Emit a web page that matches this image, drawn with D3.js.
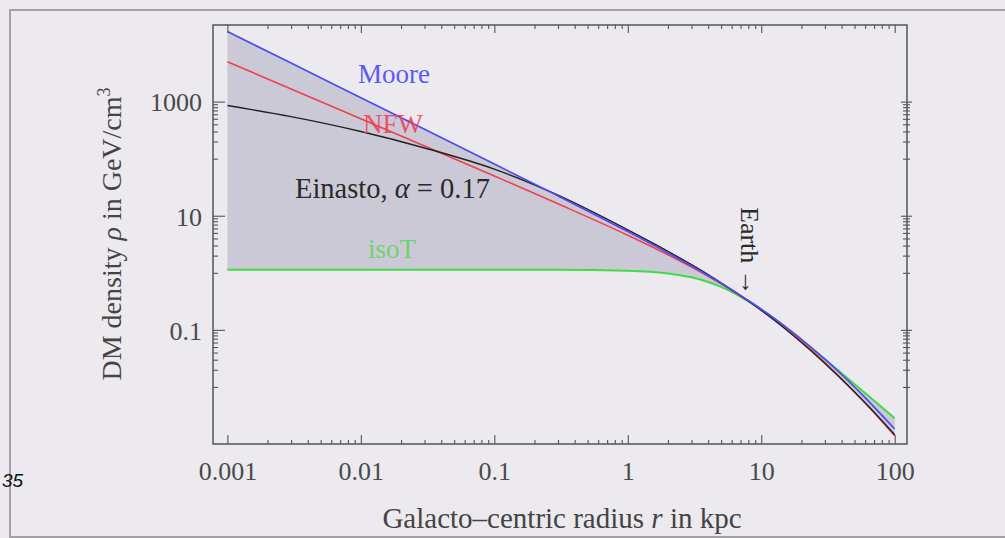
<!DOCTYPE html>
<html>
<head>
<meta charset="utf-8">
<script src="https://cdn.jsdelivr.net/npm/d3@7"></script>
<style>
  html, body { margin: 0; padding: 0; background: #ece9ef; }
  svg { display: block; }
</style>
</head>
<body>
<svg id="chart" width="1005" height="538"></svg>
<script>
// Galacto-centric radius r in kpc
const radius = [0.001, 0.003, 0.01, 0.03, 0.1, 0.3, 1, 2, 3, 4, 5, 6.5, 8.33, 11, 15, 22, 30, 45, 60, 80, 100];

// Dark-matter density rho in GeV/cm^3 for each halo profile
const moore   = [16900, 4740, 1170, 327, 80.5, 22.3, 5.28, 2.23, 1.32, 0.90, 0.655, 0.45, 0.307, 0.197, 0.116, 0.057, 0.0306, 0.0127, 0.0065, 0.0032, 0.00183];
const nfw     = [5010, 1670, 501, 167, 49.7, 16.2, 4.55, 2.07, 1.26, 0.870, 0.641, 0.439, 0.300, 0.190, 0.109, 0.0517, 0.0267, 0.0105, 0.00522, 0.00251, 0.00139];
const einasto = [853, 545, 299, 154, 65.5, 22.9, 5.65, 2.38, 1.39, 0.93, 0.668, 0.447, 0.300, 0.187, 0.106, 0.0496, 0.0258, 0.0104, 0.00526, 0.00258, 0.00145];
const isoT    = [1.13, 1.13, 1.13, 1.13, 1.13, 1.13, 1.09, 0.976, 0.833, 0.691, 0.566, 0.421, 0.300, 0.194, 0.113, 0.0556, 0.0306, 0.0138, 0.0078, 0.0044, 0.00282];

// Axis ticks
const xMajorTicks = [0.001, 0.01, 0.1, 1, 10, 100];
const xTickLabels = ["0.001", "0.01", "0.1", "1", "10", "100"];
const yMajorTicks = [1000, 10, 0.1];
const yTickLabels = ["1000", "10", "0.1"];

const serif = "'Liberation Serif', 'DejaVu Serif', 'Times New Roman', serif";
const svg = d3.select("#chart");

svg.append("rect").attr("width", 1005).attr("height", 538).attr("fill", "#ece9ef");
// slide frame
svg.append("rect").attr("x", 10).attr("y", 10).attr("width", 1010).attr("height", 527)
  .attr("fill", "none").attr("stroke", "#a3a0a8").attr("stroke-width", 2);

// slide number at the left edge
svg.append("text").attr("x", 2).attr("y", 487)
  .style("font-family", "'Liberation Sans', Arial, sans-serif").style("font-style", "italic")
  .style("font-size", "19px").attr("fill", "#111").text("35");

const x = d3.scaleLog().domain([7.8e-4, 123.6]).range([213, 907]);
const y = d3.scaleLog().domain([0.001, 22000]).range([444, 25]);

// minor ticks: every 2..9 of each decade along r
const xMinorTicks = [];
for (let d = 0.001; d < 100; d *= 10) for (let k = 2; k <= 9; k++) xMinorTicks.push(+(d * k).toPrecision(3));
// minor ticks on rho: the decade below each labelled decade
const yMinorTicks = [];
yMajorTicks.forEach(m => { for (let k = 1; k <= 9; k++) yMinorTicks.push(+(m * k / 10).toPrecision(3)); });

// shaded envelope between the highest and lowest profile
const series = [moore, nfw, einasto, isoT];
const band = radius.map((r, i) => ({
  r,
  hi: d3.max(series, s => s[i]),
  lo: d3.min(series, s => s[i])
}));
svg.append("path").datum(band)
  .attr("fill", "#ccc9d6")
  .attr("d", d3.area().curve(d3.curveMonotoneX)
    .x(d => x(d.r)).y0(d => y(d.lo)).y1(d => y(d.hi)));

// profile curves
const line = d3.line().curve(d3.curveMonotoneX).x(d => x(d[0])).y(d => y(d[1]));
const curves = [
  { values: isoT, color: "#3fdc45", width: 2 },
  { values: nfw, color: "#ef3f52", width: 1.6 },
  { values: einasto, color: "#222222", width: 1.4 },
  { values: moore, color: "#4c4cf2", width: 1.7 }
];
curves.forEach(c => {
  svg.append("path").datum(radius.map((r, i) => [r, c.values[i]]))
    .attr("fill", "none").attr("stroke", c.color).attr("stroke-width", c.width)
    .attr("d", line);
});

// axes with inward ticks
function styleAxis(g) {
  g.select(".domain").remove();
  g.selectAll("line").attr("stroke", "#555").attr("stroke-width", 1.1);
  g.selectAll("text").attr("fill", "#4a4a4a").style("font-family", serif).style("font-size", "26px");
}
const noLabel = () => "";

svg.append("g").attr("transform", "translate(0,444)")
  .call(d3.axisBottom(x).tickValues(xMinorTicks).tickSize(-4).tickFormat(noLabel)).call(styleAxis);
svg.append("g").attr("transform", "translate(0,444)")
  .call(d3.axisBottom(x).tickValues(xMajorTicks).tickSize(-9).tickPadding(18)
    .tickFormat((d, i) => xTickLabels[i])).call(styleAxis);

svg.append("g").attr("transform", "translate(0,25)")
  .call(d3.axisTop(x).tickValues(xMinorTicks).tickSize(-4).tickFormat(noLabel)).call(styleAxis);
svg.append("g").attr("transform", "translate(0,25)")
  .call(d3.axisTop(x).tickValues(xMajorTicks).tickSize(-8).tickFormat(noLabel)).call(styleAxis);

svg.append("g").attr("transform", "translate(213,0)")
  .call(d3.axisLeft(y).tickValues(yMinorTicks).tickSize(-5).tickFormat(noLabel)).call(styleAxis);
svg.append("g").attr("transform", "translate(213,0)")
  .call(d3.axisLeft(y).tickValues(yMajorTicks).tickSize(-12).tickPadding(11)
    .tickFormat((d, i) => yTickLabels[i])).call(styleAxis)
  .selectAll("text").attr("dy", "0.36em");

svg.append("g").attr("transform", "translate(907,0)")
  .call(d3.axisRight(y).tickValues(yMinorTicks).tickSize(-4).tickFormat(noLabel)).call(styleAxis);
svg.append("g").attr("transform", "translate(907,0)")
  .call(d3.axisRight(y).tickValues(yMinorTicks).tickSize(3).tickFormat(noLabel)).call(styleAxis);
svg.append("g").attr("transform", "translate(907,0)")
  .call(d3.axisRight(y).tickValues(yMajorTicks).tickSize(-6).tickFormat(noLabel)).call(styleAxis);
svg.append("g").attr("transform", "translate(907,0)")
  .call(d3.axisRight(y).tickValues(yMajorTicks).tickSize(5).tickFormat(noLabel)).call(styleAxis);

// plot frame
svg.append("rect").attr("x", 213).attr("y", 25).attr("width", 694).attr("height", 419)
  .attr("fill", "none").attr("stroke", "#555").attr("stroke-width", 1.5);

// curve labels
function label(txt, px, py, color, size) {
  return svg.append("text").attr("x", px).attr("y", py).attr("fill", color)
    .style("font-family", serif).style("font-size", (size || 27) + "px").text(txt);
}
label("Moore", 358, 83, "#5a5aee");
label("NFW", 363, 133, "#ee3d55").attr("opacity", 0.85);
label("isoT", 368, 258, "#6fd26f");
const ein = label("Einasto, ", 295, 198, "#2a2a2a", 28.5);
ein.append("tspan").style("font-style", "italic").text("α");
ein.append("tspan").text(" = 0.17");

// Sun position marker
svg.append("text").attr("transform", "translate(741,207) rotate(90)")
  .attr("fill", "#2a2a2a").style("font-family", serif).style("font-size", "26px")
  .text("Earth →");

// axis titles
const xt = svg.append("text").attr("x", 562).attr("y", 528).attr("text-anchor", "middle")
  .attr("fill", "#444").style("font-family", serif).style("font-size", "29px")
  .text("Galacto–centric radius ");
xt.append("tspan").style("font-style", "italic").text("r");
xt.append("tspan").text(" in kpc");

const yt = svg.append("text").attr("transform", "translate(121,234) rotate(-90)")
  .attr("text-anchor", "middle").attr("fill", "#444")
  .style("font-family", serif).style("font-size", "28px")
  .text("DM density ");
yt.append("tspan").style("font-style", "italic").text("ρ");
yt.append("tspan").text(" in GeV/cm");
yt.append("tspan").attr("dy", -11).style("font-size", "18px").text("3");
</script>
</body>
</html>
